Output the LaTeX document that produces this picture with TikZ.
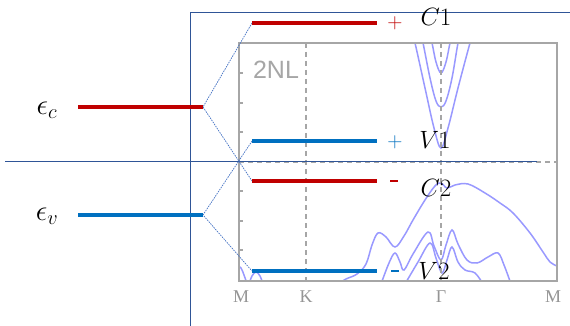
\RequirePackage{fix-cm}
\documentclass[tikz,border=0pt]{standalone}
\usepackage{fontspec}
\newfontfamily\arialf{Liberation Sans}
\newfontfamily\timesf{Liberation Serif}
\definecolor{lvred}{HTML}{C00000}
\definecolor{lvblue}{HTML}{0070C0}
\definecolor{framebl}{HTML}{2F5597}
\definecolor{connbl}{HTML}{4472C4}
\definecolor{plotgray}{HTML}{A6A6A6}
\definecolor{bandc}{HTML}{9999FF}
\tikzset{
  redlevel/.style={draw=lvred, line width=4.5pt},
  bluelevel/.style={draw=lvblue, line width=4.5pt},
  frameline/.style={draw=framebl, line width=0.9pt},
  connector/.style={draw=connbl, line width=0.7pt, dash pattern=on 1.5pt off 1pt},
  plotframe/.style={draw=plotgray, line width=2pt},
  gdash/.style={draw=plotgray, line width=1.3pt, dash pattern=on 5pt off 4pt},
  band/.style={draw=bandc, line width=1.5pt, smooth, tension=0.6},
  lbl/.style={inner sep=0pt, font=\fontsize{25}{28}\selectfont},
  elbl/.style={inner sep=0pt, font=\fontsize{29}{34}\selectfont},
  sgn/.style={inner sep=0pt, font=\fontsize{21}{24}\selectfont},
  tick/.style={inner sep=0pt, text=plotgray!90!black, font=\timesf\fontsize{18}{21}\selectfont},
}
\begin{document}
\begin{tikzpicture}[x=1pt,y=-1pt]
\useasboundingbox[fill=white] (0,0) rectangle (570,326);
% outer blue frame lines
\coordinate (ftl) at (190,12);
\coordinate (ftr) at (570,12);
\coordinate (fbl) at (190,326);
\coordinate (hl) at (5,161);
\coordinate (hr) at (537,161);
% plot
\coordinate (pnw) at (239,43);
\coordinate (pse) at (557,281);
\begin{scope}
\clip (pnw) rectangle (pse);
\draw[band] plot coordinates {(430,38) (432,43) (436,62) (441,73) (446,62) (450,43) (452,38)};
\draw[band] plot coordinates {(421,38) (423,43) (430,78) (436,101) (441,107) (446,101) (452,78) (458,43) (460,38)};
\draw[band] plot coordinates {(413,38) (415,43) (425,88) (434,128) (441,148) (448,128) (458,88) (470,43) (472,38)};
\draw[band] plot coordinates {(338,284) (346,279) (357,274) (366,264) (372,245) (378,233) (386,237) (395,247) (404,236) (413,220) (425,200) (435,186) (441,183) (447,188) (455,185) (468,184) (485,193) (500,203) (513,213) (530,233) (543,252) (550,262) (557,266) (562,268)};
\draw[band] plot coordinates {(381,284) (389,263) (395,253) (400,262) (404,270) (413,254) (428,232) (434,246) (441,260) (446,245) (452,230) (458,244) (467,260) (477,263) (488,257) (498,253) (504,265) (511,284)};
\draw[band] plot coordinates {(405,284) (418,262) (430,243) (436,258) (442,273) (447,260) (452,247) (458,262) (465,270) (475,273) (483,284)};
\draw[band] plot coordinates {(237,265) (241,268) (244,275) (247,284)};
\draw[band] plot coordinates {(249,284) (252,276) (256,272) (260,276) (263,284)};
\end{scope}
\draw[plotframe] (pnw) rectangle (pse);
\foreach \ty in {73,103,132,191,221,250} {\draw[draw=plotgray, line width=1.2pt] (239,\ty) -- (243,\ty);}
\coordinate (kt) at (306,43); \coordinate (kb) at (306,281);
\coordinate (gt) at (441,43); \coordinate (gb) at (441,281);
\coordinate (el) at (239,162); \coordinate (er) at (557,162);
\draw[gdash] (kt) -- (kb);
\draw[gdash] (gt) -- (gb);
\draw[gdash] (el) -- (er);
\node[inner sep=0pt, text=plotgray, font=\arialf\fontsize{25}{28}\selectfont] (nl) at (276,70) {2NL};
\node[tick] (tm1) at (241,297) {M};
\node[tick] (tk) at (306,297) {K};
\node[tick] (tg) at (441,297) {Γ};
\node[tick] (tm2) at (553,297) {M};
% frame lines
\draw[frameline] (fbl) -- (ftl) -- (ftr);
\draw[frameline] (hl) -- (hr);
% levels
\coordinate (ecL) at (78,107); \coordinate (ecR) at (203,107);
\coordinate (evL) at (78,215); \coordinate (evR) at (203,215);
\coordinate (c1L) at (252,23); \coordinate (c1R) at (377,23);
\coordinate (v1L) at (252,141); \coordinate (v1R) at (377,141);
\coordinate (c2L) at (252,181); \coordinate (c2R) at (377,181);
\coordinate (v2L) at (252,271); \coordinate (v2R) at (377,271);
\draw[connector] (c1L) -- (ecR) -- (c2L);
\draw[connector] (v1L) -- (evR) -- (v2L);
\draw[redlevel] (ecL) -- (ecR);
\draw[bluelevel] (evL) -- (evR);
\draw[redlevel] (c1L) -- (c1R);
\draw[bluelevel] (v1L) -- (v1R);
\draw[redlevel] (c2L) -- (c2R);
\draw[bluelevel] (v2L) -- (v2R);
% labels
\node[elbl] (lec) at (47,110) {$\epsilon_c$};
\node[elbl] (lev) at (47,216) {$\epsilon_v$};
\node[lbl] (lc1) at (436,17) {$C1$};
\node[lbl] (lv1) at (435,140) {$V1$};
\node[lbl] (lc2) at (436,188) {$C2$};
\node[lbl] (lv2) at (434,271) {$V2$};
\node[sgn, text=lvred] (s1) at (395,23) {+};
\node[sgn, text=lvblue] (s2) at (395,142) {+};
\draw[draw=lvred, line width=1.3pt] (390,181) -- (398,181);
\draw[draw=lvblue, line width=1.3pt] (391,271) -- (399,271);
\end{tikzpicture}
\end{document}
